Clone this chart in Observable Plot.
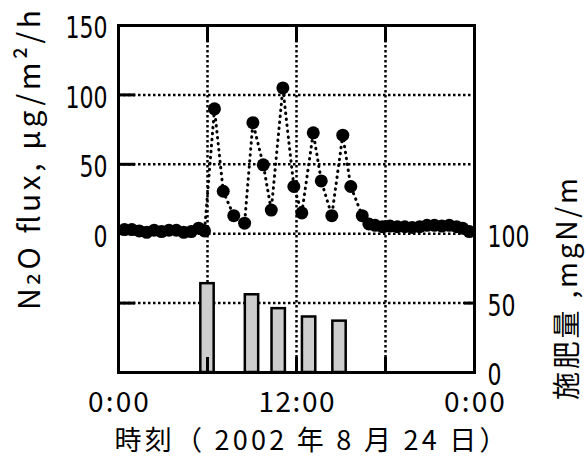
<!DOCTYPE html>
<html>
<head>
<meta charset="utf-8">
<script src="https://cdn.jsdelivr.net/npm/d3@7"></script>
<script src="https://cdn.jsdelivr.net/npm/@observablehq/plot@0.6"></script>
<style>
  html, body { margin: 0; padding: 0; background: #fff; }
</style>
</head>
<body>
<div id="chart"></div>
<script>
// ---- data ----
const fluxTime = [0.4, 0.9, 1.4, 1.9, 2.4, 2.9, 3.4, 3.9, 4.4, 4.9, 5.4, 5.8,
  6.47, 7.06, 7.77, 8.5, 9.06, 9.76, 10.3, 11.08, 11.82, 12.36, 13.13, 13.67, 14.38, 15.12, 15.66, 16.43, 16.88,
  17.3, 17.8, 18.3, 18.8, 19.3, 19.8, 20.3, 20.8, 21.3, 21.8, 22.3, 22.8, 23.2, 23.65];
const fluxValue = [3, 3, 2, 1, 2.5, 1.5, 2.5, 2.5, 1, 1.5, 4, 2,
  90, 30.6, 13, 7.6, 80, 49.6, 17, 105, 34, 15, 72.7, 38, 13, 71, 34, 13, 7,
  6, 5, 5.5, 5, 5, 4.5, 5, 6, 6, 5.5, 6, 5, 4, 1.5];
const fertTime = [6.0, 9.0, 10.8, 12.85, 14.9];
const fertAmount = [64, 56, 46, 40, 37];
const leftTicks = [0, 50, 100, 150];
const rightTicks = [0, 50, 100];
const rightOffset = 100;           // right axis value v sits at v - 100 on the shared scale
const xTicks = [0, 12, 24];
const xTickLabels = ["0:00", "12:00", "0:00"];
const gridHours = [6, 12, 18];
const yTitle = "N\u2082O flux, \u03bcg/m\u00b2/h";
const y2Title = "施肥量 ,mgN/m";
const xTitle = "時刻（ 2002 年 8 月 24 日）";

const flux = fluxTime.map((t, i) => ({t, v: fluxValue[i]}));
const fert = fertTime.map((t, i) => ({t, v: fertAmount[i]}));

const W = 586, H = 456, mL = 118, mR = 112, mT = 25, mB = 84;
const innerW = W - mL - mR, innerH = H - mT - mB;
const narrow = "'Liberation Sans Narrow', 'DejaVu Sans Condensed', 'Liberation Sans', sans-serif";
const gothic = "'Noto Sans CJK JP', 'DejaVu Sans', sans-serif";
const dots = "2.5,2.5";

const chart = Plot.plot({
  width: W, height: H,
  marginLeft: mL, marginRight: mR, marginTop: mT, marginBottom: mB,
  x: {domain: [0, 24]},
  y: {domain: [-100, 150]},
  style: {background: "#fff", color: "#000"},
  marks: [
    // dotted grid
    Plot.ruleY([100, 50, 0, -50], {stroke: "#000", strokeWidth: 2.5, strokeDasharray: dots}),
    Plot.ruleX(gridHours, {stroke: "#000", strokeWidth: 2.5, strokeDasharray: dots}),
    // bars (right axis)
    Plot.rectY(fert, {x1: d => d.t - 0.45, x2: d => d.t + 0.45, y1: -rightOffset, y2: d => d.v - rightOffset,
      fill: "#cdcdcd", stroke: "#000", strokeWidth: 2.5}),
    // inner ticks
    Plot.ruleY([100, 50, 0, -50], {stroke: "#000", strokeWidth: 3, insetRight: innerW - 17}),
    Plot.ruleY([0, -50], {stroke: "#000", strokeWidth: 3, insetLeft: innerW - 10}),
    Plot.ruleX(gridHours, {stroke: "#000", strokeWidth: 3, insetBottom: innerH - 17}),
    Plot.ruleX(gridHours, {stroke: "#000", strokeWidth: 3, insetTop: innerH - 15}),
    // flux line + dots
    Plot.line(flux, {x: "t", y: "v", stroke: "#000", strokeWidth: 3, strokeDasharray: "0.5,5.5", strokeLinecap: "round"}),
    Plot.dot(flux, {x: "t", y: "v", r: 6.5, fill: "#000"}),
    Plot.frame({stroke: "#000", strokeWidth: 3}),
    // axes
    Plot.axisY({anchor: "left", ticks: leftTicks, tickSize: 0, tickPadding: 11, label: null,
      fontSize: 31, fontFamily: narrow, dy: 3}),
    Plot.axisY({anchor: "right", ticks: rightTicks.map(v => v - rightOffset), tickFormat: d => String(d + rightOffset),
      tickSize: 0, tickPadding: 13, label: null, fontSize: 31, fontFamily: narrow, dy: 3}),
    Plot.axisX({anchor: "bottom", ticks: xTicks, tickFormat: d => xTickLabels[xTicks.indexOf(d)],
      tickSize: 0, tickPadding: 20, label: null, fontSize: 28, fontFamily: gothic}),
    // titles
    Plot.text([yTitle], {frameAnchor: "left", text: d => d, rotate: -90, dx: -88, dy: -39,
      fontSize: 30, fontFamily: gothic, textAnchor: "middle", lineAnchor: "middle"}),
    Plot.text([y2Title], {frameAnchor: "right", text: d => d, rotate: -90, dx: 94, dy: 90,
      fontSize: 28, fontFamily: gothic, textAnchor: "middle", lineAnchor: "middle"}),
    Plot.text([xTitle], {frameAnchor: "bottom", text: d => d, dx: 14, dy: 69,
      fontSize: 27, fontFamily: gothic, textAnchor: "middle", lineAnchor: "middle"})
  ]
});

// stretch the titles to the reference lengths
const lengths = new Map([[yTitle, 300], [y2Title, 222], [xTitle, 392]]);
chart.querySelectorAll("text").forEach(t => {
  const L = lengths.get(t.textContent);
  if (L) { t.setAttribute("textLength", L); t.setAttribute("lengthAdjust", "spacing"); }
});
// condensed tick numerals, as in the reference
chart.querySelectorAll("[aria-label='y-axis tick label'] text").forEach(t => {
  t.setAttribute("textLength", 14 * t.textContent.length);
  t.setAttribute("lengthAdjust", "spacingAndGlyphs");
});
chart.querySelectorAll("[aria-label='x-axis tick label'] text").forEach(t => {
  t.setAttribute("textLength", 15.2 * t.textContent.length);
  t.setAttribute("lengthAdjust", "spacing");
});
document.getElementById("chart").appendChild(chart);
</script>
</body>
</html>
